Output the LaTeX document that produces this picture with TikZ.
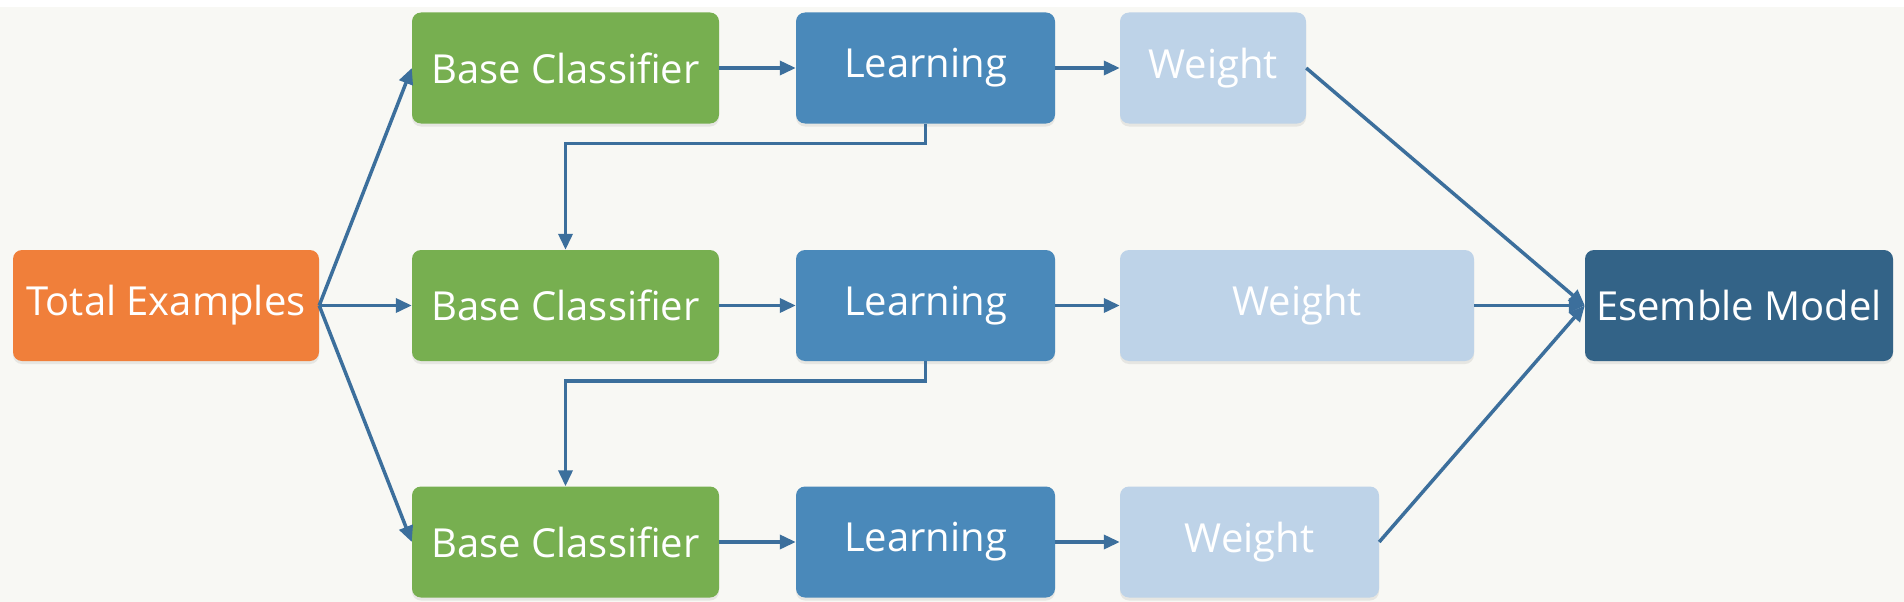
\documentclass[tikz,border=0pt]{standalone}
\usepackage{fontspec}
\setmainfont{Open Sans}
\usetikzlibrary{arrows.meta,shadows}
\definecolor{bgc}{RGB}{248,248,244}
\definecolor{orangec}{RGB}{240,127,58}
\definecolor{greenc}{RGB}{119,175,80}
\definecolor{learnc}{RGB}{74,137,186}
\definecolor{weightc}{RGB}{190,211,232}
\definecolor{ensc}{RGB}{51,99,135}
\definecolor{arrc}{RGB}{60,111,156}
\tikzset{
  box/.style={rounded corners=9pt, minimum height=111pt, inner sep=0pt, text=white,
    font=\fontsize{40}{48}\selectfont,
    drop shadow={shadow xshift=0pt, shadow yshift=-3pt, opacity=0.15}},
  arr/.style={draw=arrc, line width=3.5pt, -{Triangle[length=16pt,width=14pt]}},
}
\begin{document}
\begin{tikzpicture}[x=1pt,y=-1pt]
\useasboundingbox (0,0) rectangle (1904,602);
\fill[white] (0,0) rectangle (1904,602);
\fill[bgc] (0,7) rectangle (1904,602);
% nodes
\node[box, fill=orangec, minimum width=306pt] (te) at (166,305.5) {Total Examples};
\node[box, fill=greenc, minimum width=307pt] (b1) at (565.5,68) {Base Classifier};
\node[box, fill=greenc, minimum width=307pt] (b2) at (565.5,305.5) {Base Classifier};
\node[box, fill=greenc, minimum width=307pt] (b3) at (565.5,542) {Base Classifier};
\node[box, fill=learnc, minimum width=259pt] (l1) at (925.5,68) {Learning};
\node[box, fill=learnc, minimum width=259pt] (l2) at (925.5,305.5) {Learning};
\node[box, fill=learnc, minimum width=259pt] (l3) at (925.5,542) {Learning};
\node[box, fill=weightc, minimum width=186pt] (w1) at (1213,68) {Weight};
\node[box, fill=weightc, minimum width=354pt] (w2) at (1297,305.5) {Weight};
\node[box, fill=weightc, minimum width=259pt] (w3) at (1249.5,542) {Weight};
\node[box, fill=ensc, minimum width=308pt] (em) at (1739,305.5) {Esemble Model};
% connectors
\draw[arr] (te.east) -- (b1.west);
\draw[arr] (te.east) -- (b2.west);
\draw[arr] (te.east) -- (b3.west);
\draw[arr] (b1.east) -- (l1.west);
\draw[arr] (b2.east) -- (l2.west);
\draw[arr] (b3.east) -- (l3.west);
\draw[arr] (l1.east) -- (w1.west);
\draw[arr] (l2.east) -- (w2.west);
\draw[arr] (l3.east) -- (w3.west);
\draw[arr] (l1.south) -- ++(0,20) -| (b2.north);
\draw[arr] (l2.south) -- ++(0,20) -| (b3.north);
\draw[arr] (w1.east) -- (em.west);
\draw[arr] (w2.east) -- (em.west);
\draw[arr] (w3.east) -- (em.west);
\end{tikzpicture}
\end{document}
